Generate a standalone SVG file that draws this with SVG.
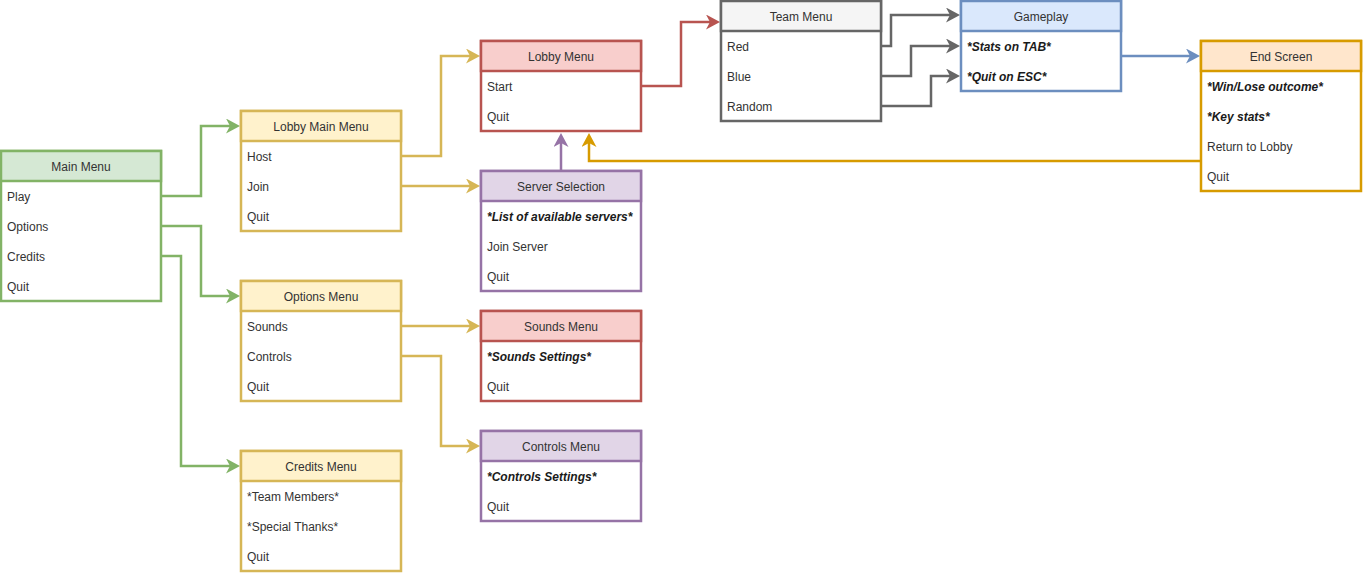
<svg xmlns="http://www.w3.org/2000/svg" width="1363" height="573" viewBox="0 0 1363 573">
  <style>
    text { font-family: "Liberation Sans", Arial, sans-serif; font-size: 12px; fill: #333333; }
    .hd { text-anchor: middle; }
    .em { font-weight: bold; font-style: italic; fill: #1a1a1a; }
    .box { fill: #ffffff; stroke-width: 2.5; }
    .hdr { stroke-width: 2.5; }
    .edge { fill: none; stroke-width: 2.5; }
    .green { stroke: #82b366; }
    .green.hdr { fill: #d5e8d4; }
    .yellow { stroke: #d6b656; }
    .yellow.hdr { fill: #fff2cc; }
    .red { stroke: #b85450; }
    .red.hdr { fill: #f8cecc; }
    .purple { stroke: #9673a6; }
    .purple.hdr { fill: #e1d5e7; }
    .gray { stroke: #666666; }
    .gray.hdr { fill: #f5f5f5; }
    .blue { stroke: #6c8ebf; }
    .blue.hdr { fill: #dae8fc; }
    .orange { stroke: #d79b00; }
    .orange.hdr { fill: #ffe6cc; }
  </style>
  <defs>
    <marker id="a-green" markerUnits="userSpaceOnUse" viewBox="0 0 14 15" markerWidth="14" markerHeight="15" refX="4" refY="7.5" orient="auto"><path d="M0,0 L14,7.5 L0,15 L4,7.5 Z" fill="#82b366"/></marker>
    <marker id="a-yellow" markerUnits="userSpaceOnUse" viewBox="0 0 14 15" markerWidth="14" markerHeight="15" refX="4" refY="7.5" orient="auto"><path d="M0,0 L14,7.5 L0,15 L4,7.5 Z" fill="#d6b656"/></marker>
    <marker id="a-red" markerUnits="userSpaceOnUse" viewBox="0 0 14 15" markerWidth="14" markerHeight="15" refX="4" refY="7.5" orient="auto"><path d="M0,0 L14,7.5 L0,15 L4,7.5 Z" fill="#b85450"/></marker>
    <marker id="a-purple" markerUnits="userSpaceOnUse" viewBox="0 0 14 15" markerWidth="14" markerHeight="15" refX="4" refY="7.5" orient="auto"><path d="M0,0 L14,7.5 L0,15 L4,7.5 Z" fill="#9673a6"/></marker>
    <marker id="a-gray" markerUnits="userSpaceOnUse" viewBox="0 0 14 15" markerWidth="14" markerHeight="15" refX="4" refY="7.5" orient="auto"><path d="M0,0 L14,7.5 L0,15 L4,7.5 Z" fill="#666666"/></marker>
    <marker id="a-blue" markerUnits="userSpaceOnUse" viewBox="0 0 14 15" markerWidth="14" markerHeight="15" refX="4" refY="7.5" orient="auto"><path d="M0,0 L14,7.5 L0,15 L4,7.5 Z" fill="#6c8ebf"/></marker>
    <marker id="a-orange" markerUnits="userSpaceOnUse" viewBox="0 0 14 15" markerWidth="14" markerHeight="15" refX="4" refY="7.5" orient="auto"><path d="M0,0 L14,7.5 L0,15 L4,7.5 Z" fill="#d79b00"/></marker>
  </defs>

  <!-- connectors -->
  <g id="connectors">
    <path class="edge green" d="M161,196 H201 V126 H230" marker-end="url(#a-green)"/>
    <path class="edge green" d="M161,226 H201 V296 H230" marker-end="url(#a-green)"/>
    <path class="edge green" d="M161,256 H181 V466 H230" marker-end="url(#a-green)"/>
    <path class="edge yellow" d="M401,156 H441 V56 H470" marker-end="url(#a-yellow)"/>
    <path class="edge yellow" d="M401,186 H470" marker-end="url(#a-yellow)"/>
    <path class="edge yellow" d="M401,326 H470" marker-end="url(#a-yellow)"/>
    <path class="edge yellow" d="M401,356 H441 V446 H470" marker-end="url(#a-yellow)"/>
    <path class="edge purple" d="M561,171 V143" marker-end="url(#a-purple)"/>
    <path class="edge orange" d="M1201,161 H589 V143" marker-end="url(#a-orange)"/>
    <path class="edge red" d="M641,86 H681 V22 H710" marker-end="url(#a-red)"/>
    <path class="edge gray" d="M881,46 H891 V15 H950" marker-end="url(#a-gray)"/>
    <path class="edge gray" d="M881,76 H911 V46 H950" marker-end="url(#a-gray)"/>
    <path class="edge gray" d="M881,106 H931 V76 H950" marker-end="url(#a-gray)"/>
    <path class="edge blue" d="M1121,56 H1190" marker-end="url(#a-blue)"/>
  </g>

  <!-- Main Menu -->
  <g id="main-menu">
    <rect class="box green" x="1" y="151" width="160" height="150"/>
    <rect class="hdr green" x="1" y="151" width="160" height="30"/>
    <text class="hd" x="81" y="171">Main Menu</text>
    <text x="7" y="201">Play</text>
    <text x="7" y="231">Options</text>
    <text x="7" y="261">Credits</text>
    <text x="7" y="291">Quit</text>
  </g>

  <!-- Lobby Main Menu -->
  <g id="lobby-main-menu">
    <rect class="box yellow" x="241" y="111" width="160" height="120"/>
    <rect class="hdr yellow" x="241" y="111" width="160" height="30"/>
    <text class="hd" x="321" y="131">Lobby Main Menu</text>
    <text x="247" y="161">Host</text>
    <text x="247" y="191">Join</text>
    <text x="247" y="221">Quit</text>
  </g>

  <!-- Options Menu -->
  <g id="options-menu">
    <rect class="box yellow" x="241" y="281" width="160" height="120"/>
    <rect class="hdr yellow" x="241" y="281" width="160" height="30"/>
    <text class="hd" x="321" y="301">Options Menu</text>
    <text x="247" y="331">Sounds</text>
    <text x="247" y="361">Controls</text>
    <text x="247" y="391">Quit</text>
  </g>

  <!-- Credits Menu -->
  <g id="credits-menu">
    <rect class="box yellow" x="241" y="451" width="160" height="120"/>
    <rect class="hdr yellow" x="241" y="451" width="160" height="30"/>
    <text class="hd" x="321" y="471">Credits Menu</text>
    <text x="247" y="501">*Team Members*</text>
    <text x="247" y="531">*Special Thanks*</text>
    <text x="247" y="561">Quit</text>
  </g>

  <!-- Lobby Menu -->
  <g id="lobby-menu">
    <rect class="box red" x="481" y="41" width="160" height="90"/>
    <rect class="hdr red" x="481" y="41" width="160" height="30"/>
    <text class="hd" x="561" y="61">Lobby Menu</text>
    <text x="487" y="91">Start</text>
    <text x="487" y="121">Quit</text>
  </g>

  <!-- Server Selection -->
  <g id="server-selection">
    <rect class="box purple" x="481" y="171" width="160" height="120"/>
    <rect class="hdr purple" x="481" y="171" width="160" height="30"/>
    <text class="hd" x="561" y="191">Server Selection</text>
    <text class="em" x="487" y="221">*List of available servers*</text>
    <text x="487" y="251">Join Server</text>
    <text x="487" y="281">Quit</text>
  </g>

  <!-- Sounds Menu -->
  <g id="sounds-menu">
    <rect class="box red" x="481" y="311" width="160" height="90"/>
    <rect class="hdr red" x="481" y="311" width="160" height="30"/>
    <text class="hd" x="561" y="331">Sounds Menu</text>
    <text class="em" x="487" y="361">*Sounds Settings*</text>
    <text x="487" y="391">Quit</text>
  </g>

  <!-- Controls Menu -->
  <g id="controls-menu">
    <rect class="box purple" x="481" y="431" width="160" height="90"/>
    <rect class="hdr purple" x="481" y="431" width="160" height="30"/>
    <text class="hd" x="561" y="451">Controls Menu</text>
    <text class="em" x="487" y="481">*Controls Settings*</text>
    <text x="487" y="511">Quit</text>
  </g>

  <!-- Team Menu -->
  <g id="team-menu">
    <rect class="box gray" x="721" y="1" width="160" height="120"/>
    <rect class="hdr gray" x="721" y="1" width="160" height="30"/>
    <text class="hd" x="801" y="21">Team Menu</text>
    <text x="727" y="51">Red</text>
    <text x="727" y="81">Blue</text>
    <text x="727" y="111">Random</text>
  </g>

  <!-- Gameplay -->
  <g id="gameplay">
    <rect class="box blue" x="961" y="1" width="160" height="90"/>
    <rect class="hdr blue" x="961" y="1" width="160" height="30"/>
    <text class="hd" x="1041" y="21">Gameplay</text>
    <text class="em" x="967" y="51">*Stats on TAB*</text>
    <text class="em" x="967" y="81">*Quit on ESC*</text>
  </g>

  <!-- End Screen -->
  <g id="end-screen">
    <rect class="box orange" x="1201" y="41" width="160" height="150"/>
    <rect class="hdr orange" x="1201" y="41" width="160" height="30"/>
    <text class="hd" x="1281" y="61">End Screen</text>
    <text class="em" x="1207" y="91">*Win/Lose outcome*</text>
    <text class="em" x="1207" y="121">*Key stats*</text>
    <text x="1207" y="151">Return to Lobby</text>
    <text x="1207" y="181">Quit</text>
  </g>
</svg>
